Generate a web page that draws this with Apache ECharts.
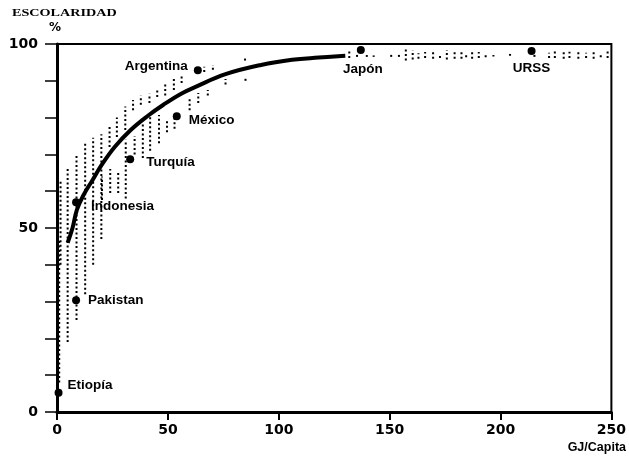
<!DOCTYPE html>
<html>
<head>
<meta charset="utf-8">
<script src="https://cdn.jsdelivr.net/npm/echarts@6/dist/echarts.min.js"></script>
<style>
html,body{margin:0;padding:0;background:#fff;}
#chart{width:629px;height:456px;}
</style>
</head>
<body>
<div id="chart"></div>
<script>
// Trend curve (GJ/Capita vs % schooling)
const curveX = [4.8, 7, 9, 12, 16, 20, 26, 33, 41, 48, 56, 63, 76, 92, 106, 118, 130];
const curveY = [46, 50, 55, 59, 63, 67, 72, 76.5, 80.5, 83.5, 86.5, 88.5, 91.8, 94.3, 95.7, 96.3, 96.8];

// Countries
const countryNames = ["Etiopía", "Pakistan", "Indonesia", "Turquía", "México", "Argentina", "Japón", "URSS"];
const countryX = [0.7, 8.6, 8.6, 33, 54, 63.5, 137, 214];
const countryY = [5.2, 30.4, 57, 68.7, 80.4, 92.9, 98.4, 98.1];

// Dotted vertical spread columns: x, low, high
const dotX  = [1.0, 1.6, 4.8, 8.8, 12.7, 16.3, 20,
  23.7, 27, 30.8, 34.3, 37.8, 41.7, 45.2, 48.8, 52.7, 56.2, 63.7, 66.4, 70.3, 84.8,
  20.3, 24, 27.6, 31, 35, 38.7, 42, 46, 49.6, 53, 59.8, 63.7, 68, 76, 85,
  131.8, 135.3, 139.7, 142.8, 150.7, 154.2, 157.3, 160.4, 163, 166, 169.6, 172.7, 175.8, 179.3,
  182.4, 184.5, 187.2, 190.2, 193.3, 196.8, 204.3, 215.3, 221.9, 224.5, 228.5, 231.1, 235.1,
  238.6, 242, 245.2, 248.3];
const dotLo = [8, 40, 19, 25, 32, 40, 47,
  72, 74.7, 76.6, 82, 83.5, 84, 85.6, 86, 87.5, 89.4, 92.4, 92.4, 93, 95.5,
  57.6, 59.5, 59.5, 58, 70, 69, 71, 73, 76, 77, 82, 84, 86, 89, 90,
  96.2, 96.5, 96.5, 96.5, 96.5, 96.5, 95.5, 95.8, 96, 96.2, 96, 96.2, 95.8, 96,
  96, 96.4, 96, 96.2, 96.4, 96.6, 96.8, 96.5, 96.2, 96.2, 96, 96.2, 96,
  96.2, 96, 96.4, 96.2];
const dotHi = [47, 63, 66, 70, 73, 74.5, 75.5,
  77.5, 80, 83, 84.8, 86, 86.5, 87.5, 89.7, 90.7, 91.6, 93.5, 93.8, 94.3, 96.2,
  64, 66, 65, 74, 75, 78.5, 81, 80.7, 79, 80, 85.6, 86.7, 87.5, 90.5, 91,
  98.4, 97.2, 97, 96.9, 97.2, 97.4, 98.5, 98.3, 97.5, 97.8, 98.3, 97.3, 98.4, 97.9,
  98.4, 97.1, 98.2, 97.8, 97.4, 97, 97.3, 97.5, 97.6, 98, 98.2, 97.9, 98.3,
  97.6, 98.2, 97.4, 98.3];

// Axis ticks
const yTickLabels = [0, 50, 100];
const xMin = 0, xMax = 250, xStep = 50;
const yMin = 0, yMax = 100, yStep = 10;

const labelPos = {
  "Etiopía":   {position: 'right', offset: [0, -8]},
  "Pakistan":  {position: 'right', offset: [3, 0]},
  "Indonesia": {position: 'right', offset: [6, 4]},
  "Turquía":   {position: 'right', offset: [7, 3]},
  "México":    {position: 'right', offset: [3, 4]},
  "Argentina": {position: 'left',  offset: [-1, -4]},
  "Japón":     {position: 'bottom', offset: [2, 3]},
  "URSS":      {position: 'bottom', offset: [0, 1]}
};

const labelFont = {color: '#000', fontFamily: 'Liberation Sans', fontWeight: 'bold', fontSize: 13.5, distance: 5, textBorderWidth: 0, opacity: 1};

const curveData = curveX.map((x, i) => [x, curveY[i]]);
const dotData = dotX.map((x, i) => [x, dotLo[i], dotHi[i]]);
const countryData = countryNames.map((n, i) => ({
  name: n,
  value: [countryX[i], countryY[i]],
  label: Object.assign({show: true, formatter: n}, labelFont, labelPos[n])
}));

const chart = echarts.init(document.getElementById('chart'), null, {renderer: 'canvas'});
chart.setOption({
  animation: false,
  backgroundColor: '#fff',
  grid: {left: 57, right: 3, top: 44, bottom: 44, show: true, borderColor: '#000', borderWidth: 2, backgroundColor: 'transparent'},
  xAxis: {
    type: 'value', min: xMin, max: xMax, interval: xStep,
    axisLine: {show: true, lineStyle: {color: '#000', width: 3}},
    axisTick: {show: true, length: 8, lineStyle: {color: '#000', width: 2}},
    axisLabel: {color: '#000', fontFamily: 'DejaVu Sans', fontWeight: 'bold', fontSize: 14, margin: 11},
    splitLine: {show: false}
  },
  yAxis: {
    type: 'value', min: yMin, max: yMax, interval: yStep,
    axisLine: {show: true, lineStyle: {color: '#000', width: 3}},
    axisTick: {show: true, length: 12, lineStyle: {color: '#000', width: 1.5}},
    axisLabel: {color: '#000', fontFamily: 'DejaVu Sans', fontWeight: 'bold', fontSize: 14, margin: 19,
      formatter: v => yTickLabels.indexOf(v) >= 0 ? String(v) : ''},
    splitLine: {show: false}
  },
  graphic: [
    {type: 'text', x: 12, y: 8, scaleX: 1.35, style: {text: 'ESCOLARIDAD', font: 'bold 10.5px "Liberation Serif"', fill: '#000'}},
    {type: 'text', x: 49, y: 22, style: {text: '%', font: 'bold 12px "DejaVu Sans"', fill: '#000'}},
    {type: 'text', right: 3, top: 441, style: {text: 'GJ/Capita', font: 'bold 12.5px "Liberation Sans"', fill: '#000'}}
  ],
  series: [
    {
      type: 'custom',
      data: dotData,
      encode: {x: 0, y: [1, 2]},
      clip: false,
      renderItem: function (params, api) {
        const x = api.value(0), lo = api.value(1), hi = api.value(2);
        const p1 = api.coord([x, lo]);
        const p2 = api.coord([x, hi]);
        return {
          type: 'line',
          shape: {x1: p1[0], y1: p1[1], x2: p2[0], y2: p2[1]},
          style: {stroke: '#000', lineWidth: 2, lineDash: [2, 2.5]}
        };
      },
      z: 1
    },
    {
      type: 'line',
      data: curveData,
      smooth: 0.4,
      showSymbol: false,
      lineStyle: {color: '#000', width: 4},
      z: 2
    },
    {
      type: 'scatter',
      data: countryData,
      symbol: 'circle',
      symbolSize: 8,
      itemStyle: {color: '#000', opacity: 1},
      label: labelFont,
      z: 3
    }
  ]
});
</script>
</body>
</html>
